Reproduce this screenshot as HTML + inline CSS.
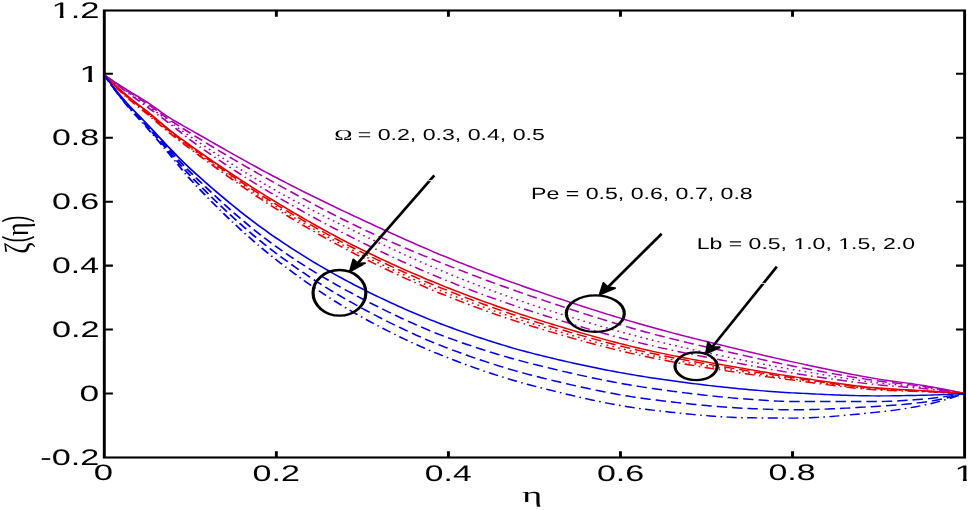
<!DOCTYPE html><html><head><meta charset="utf-8"><style>html,body{margin:0;padding:0;background:#fff;overflow:hidden}svg{display:block}</style></head><body>
<svg width="968" height="510" viewBox="0 0 968 510">
<rect width="968" height="510" fill="#fff"/>
<g transform="scale(1.39 1)" fill="none" stroke="#000" stroke-width="2.1" stroke-linecap="square">
<rect x="75.04" y="10.5" width="618.92" height="447.0"/>
<path d="M198.82,457.5V451.3M198.82,10.5V16.7M322.60,457.5V451.3M322.60,10.5V16.7M446.39,457.5V451.3M446.39,10.5V16.7M570.17,457.5V451.3M570.17,10.5V16.7M75.04,393.50H81.22M693.96,393.50H687.77M75.04,329.56H81.22M693.96,329.56H687.77M75.04,265.62H81.22M693.96,265.62H687.77M75.04,201.68H81.22M693.96,201.68H687.77M75.04,137.74H81.22M693.96,137.74H687.77M75.04,73.80H81.22M693.96,73.80H687.77" stroke-linecap="butt"/>
</g>
<clipPath id="plotclip"><rect x="105.6" y="0" width="857.8" height="510"/></clipPath>
<g clip-path="url(#plotclip)"><g transform="scale(1.39 1)" fill="none" stroke-width="1.45">
<path d="M75.04,75.00 L77.61,77.43 L80.19,79.83 L82.77,82.21 L85.35,84.55 L87.93,86.86 L90.51,89.15 L93.09,91.37 L95.67,93.52 L98.25,95.65 L100.82,97.79 L103.40,99.98 L105.98,102.25 L108.56,104.67 L111.14,107.21 L113.72,109.81 L116.30,112.40 L118.88,114.91 L121.46,117.28 L124.03,119.50 L126.61,121.62 L129.19,123.68 L131.77,125.71 L134.35,127.72 L136.93,129.75 L139.51,131.79 L142.09,133.84 L144.66,135.89 L147.24,137.94 L149.82,139.99 L152.40,142.04 L154.98,144.08 L157.56,146.13 L160.14,148.17 L162.72,150.20 L165.30,152.23 L167.87,154.25 L170.45,156.26 L173.03,158.27 L175.61,160.27 L178.19,162.25 L180.77,164.23 L183.35,166.20 L185.93,168.15 L188.50,170.09 L191.08,172.02 L193.66,173.93 L196.24,175.82 L198.82,177.70 L201.40,179.57 L203.98,181.42 L206.56,183.27 L209.14,185.10 L211.71,186.92 L214.29,188.73 L216.87,190.54 L219.45,192.33 L222.03,194.11 L224.61,195.89 L227.19,197.66 L229.77,199.41 L232.35,201.16 L234.92,202.90 L237.50,204.63 L240.08,206.36 L242.66,208.08 L245.24,209.79 L247.82,211.49 L250.40,213.18 L252.98,214.87 L255.55,216.56 L258.13,218.23 L260.71,219.90 L263.29,221.57 L265.87,223.23 L268.45,224.89 L271.03,226.54 L273.61,228.19 L276.19,229.84 L278.76,231.48 L281.34,233.11 L283.92,234.73 L286.50,236.35 L289.08,237.96 L291.66,239.56 L294.24,241.15 L296.82,242.74 L299.39,244.31 L301.97,245.87 L304.55,247.43 L307.13,248.97 L309.71,250.50 L312.29,252.01 L314.87,253.52 L317.45,255.01 L320.03,256.48 L322.60,257.95 L325.18,259.40 L327.76,260.84 L330.34,262.27 L332.92,263.70 L335.50,265.11 L338.08,266.51 L340.66,267.91 L343.24,269.30 L345.81,270.67 L348.39,272.04 L350.97,273.40 L353.55,274.75 L356.13,276.09 L358.71,277.42 L361.29,278.75 L363.87,280.06 L366.44,281.36 L369.02,282.66 L371.60,283.95 L374.18,285.22 L376.76,286.49 L379.34,287.75 L381.92,289.00 L384.50,290.24 L387.08,291.47 L389.65,292.70 L392.23,293.92 L394.81,295.14 L397.39,296.35 L399.97,297.56 L402.55,298.76 L405.13,299.96 L407.71,301.15 L410.28,302.33 L412.86,303.51 L415.44,304.68 L418.02,305.84 L420.60,307.00 L423.18,308.15 L425.76,309.29 L428.34,310.43 L430.92,311.56 L433.49,312.68 L436.07,313.80 L438.65,314.90 L441.23,316.00 L443.81,317.09 L446.39,318.18 L448.97,319.25 L451.55,320.32 L454.12,321.37 L456.70,322.42 L459.28,323.46 L461.86,324.49 L464.44,325.51 L467.02,326.52 L469.60,327.52 L472.18,328.51 L474.76,329.50 L477.33,330.47 L479.91,331.43 L482.49,332.38 L485.07,333.33 L487.65,334.27 L490.23,335.20 L492.81,336.12 L495.39,337.04 L497.97,337.95 L500.54,338.85 L503.12,339.75 L505.70,340.64 L508.28,341.53 L510.86,342.41 L513.44,343.29 L516.02,344.16 L518.60,345.04 L521.17,345.91 L523.75,346.77 L526.33,347.64 L528.91,348.50 L531.49,349.36 L534.07,350.22 L536.65,351.08 L539.23,351.94 L541.81,352.80 L544.38,353.65 L546.96,354.50 L549.54,355.35 L552.12,356.19 L554.70,357.02 L557.28,357.85 L559.86,358.67 L562.44,359.48 L565.01,360.28 L567.59,361.07 L570.17,361.85 L572.75,362.63 L575.33,363.40 L577.91,364.18 L580.49,364.96 L583.07,365.73 L585.65,366.51 L588.22,367.28 L590.80,368.04 L593.38,368.81 L595.96,369.56 L598.54,370.31 L601.12,371.06 L603.70,371.79 L606.28,372.52 L608.86,373.24 L611.43,373.94 L614.01,374.64 L616.59,375.32 L619.17,375.99 L621.75,376.65 L624.33,377.29 L626.91,377.91 L629.49,378.52 L632.06,379.11 L634.64,379.68 L637.22,380.21 L639.80,380.72 L642.38,381.20 L644.96,381.68 L647.54,382.15 L650.12,382.62 L652.70,383.09 L655.27,383.58 L657.85,384.09 L660.43,384.62 L663.01,385.19 L665.59,385.78 L668.17,386.40 L670.75,387.03 L673.33,387.68 L675.90,388.35 L678.48,389.04 L681.06,389.75 L683.64,390.47 L686.22,391.20 L688.80,391.96 L691.38,392.72 L693.96,393.50" stroke="#aa00b2"/>
<path d="M75.04,75.00 L77.61,77.55 L80.19,80.07 L82.77,82.56 L85.35,85.03 L87.93,87.48 L90.51,89.89 L93.09,92.26 L95.67,94.56 L98.25,96.85 L100.82,99.13 L103.40,101.46 L105.98,103.85 L108.56,106.34 L111.14,108.91 L113.72,111.52 L116.30,114.14 L118.88,116.71 L121.46,119.20 L124.03,121.61 L126.61,123.99 L129.19,126.33 L131.77,128.64 L134.35,130.91 L136.93,133.16 L139.51,135.39 L142.09,137.61 L144.66,139.81 L147.24,142.01 L149.82,144.20 L152.40,146.37 L154.98,148.54 L157.56,150.69 L160.14,152.84 L162.72,154.97 L165.30,157.10 L167.87,159.21 L170.45,161.31 L173.03,163.41 L175.61,165.49 L178.19,167.56 L180.77,169.62 L183.35,171.68 L185.93,173.72 L188.50,175.75 L191.08,177.77 L193.66,179.78 L196.24,181.78 L198.82,183.78 L201.40,185.76 L203.98,187.75 L206.56,189.72 L209.14,191.70 L211.71,193.67 L214.29,195.63 L216.87,197.58 L219.45,199.53 L222.03,201.47 L224.61,203.39 L227.19,205.31 L229.77,207.21 L232.35,209.11 L234.92,210.99 L237.50,212.85 L240.08,214.70 L242.66,216.53 L245.24,218.35 L247.82,220.15 L250.40,221.93 L252.98,223.69 L255.55,225.44 L258.13,227.16 L260.71,228.85 L263.29,230.53 L265.87,232.20 L268.45,233.85 L271.03,235.48 L273.61,237.10 L276.19,238.70 L278.76,240.29 L281.34,241.87 L283.92,243.43 L286.50,244.98 L289.08,246.52 L291.66,248.05 L294.24,249.56 L296.82,251.07 L299.39,252.56 L301.97,254.05 L304.55,255.52 L307.13,256.99 L309.71,258.45 L312.29,259.90 L314.87,261.34 L317.45,262.77 L320.03,264.20 L322.60,265.62 L325.18,267.03 L327.76,268.44 L330.34,269.84 L332.92,271.23 L335.50,272.61 L338.08,273.99 L340.66,275.35 L343.24,276.71 L345.81,278.06 L348.39,279.40 L350.97,280.74 L353.55,282.06 L356.13,283.38 L358.71,284.68 L361.29,285.98 L363.87,287.27 L366.44,288.56 L369.02,289.83 L371.60,291.09 L374.18,292.35 L376.76,293.59 L379.34,294.83 L381.92,296.05 L384.50,297.27 L387.08,298.48 L389.65,299.69 L392.23,300.89 L394.81,302.09 L397.39,303.29 L399.97,304.48 L402.55,305.67 L405.13,306.85 L407.71,308.03 L410.28,309.20 L412.86,310.37 L415.44,311.53 L418.02,312.68 L420.60,313.82 L423.18,314.96 L425.76,316.09 L428.34,317.22 L430.92,318.33 L433.49,319.44 L436.07,320.54 L438.65,321.63 L441.23,322.71 L443.81,323.78 L446.39,324.84 L448.97,325.89 L451.55,326.93 L454.12,327.96 L456.70,328.97 L459.28,329.98 L461.86,330.97 L464.44,331.95 L467.02,332.92 L469.60,333.88 L472.18,334.82 L474.76,335.76 L477.33,336.68 L479.91,337.59 L482.49,338.49 L485.07,339.38 L487.65,340.26 L490.23,341.13 L492.81,342.00 L495.39,342.85 L497.97,343.70 L500.54,344.55 L503.12,345.38 L505.70,346.21 L508.28,347.04 L510.86,347.86 L513.44,348.68 L516.02,349.49 L518.60,350.30 L521.17,351.11 L523.75,351.92 L526.33,352.72 L528.91,353.52 L531.49,354.33 L534.07,355.13 L536.65,355.93 L539.23,356.73 L541.81,357.54 L544.38,358.34 L546.96,359.15 L549.54,359.95 L552.12,360.74 L554.70,361.53 L557.28,362.31 L559.86,363.07 L562.44,363.83 L565.01,364.57 L567.59,365.30 L570.17,366.01 L572.75,366.70 L575.33,367.40 L577.91,368.09 L580.49,368.78 L583.07,369.47 L585.65,370.15 L588.22,370.82 L590.80,371.49 L593.38,372.16 L595.96,372.82 L598.54,373.47 L601.12,374.11 L603.70,374.74 L606.28,375.37 L608.86,375.98 L611.43,376.59 L614.01,377.19 L616.59,377.77 L619.17,378.35 L621.75,378.91 L624.33,379.46 L626.91,380.00 L629.49,380.52 L632.06,381.03 L634.64,381.52 L637.22,381.98 L639.80,382.41 L642.38,382.83 L644.96,383.24 L647.54,383.64 L650.12,384.04 L652.70,384.45 L655.27,384.87 L657.85,385.30 L660.43,385.76 L663.01,386.25 L665.59,386.77 L668.17,387.30 L670.75,387.85 L673.33,388.42 L675.90,389.00 L678.48,389.60 L681.06,390.22 L683.64,390.85 L686.22,391.49 L688.80,392.15 L691.38,392.82 L693.96,393.50" stroke="#aa00b2" stroke-dasharray="7.5 3.6"/>
<path d="M75.04,75.00 L77.61,77.66 L80.19,80.30 L82.77,82.92 L85.35,85.52 L87.93,88.09 L90.51,90.64 L93.09,93.14 L95.67,95.60 L98.25,98.04 L100.82,100.48 L103.40,102.94 L105.98,105.45 L108.56,108.01 L111.14,110.62 L113.72,113.24 L116.30,115.88 L118.88,118.51 L121.46,121.12 L124.03,123.72 L126.61,126.34 L129.19,128.96 L131.77,131.55 L134.35,134.09 L136.93,136.57 L139.51,139.00 L142.09,141.42 L144.66,143.84 L147.24,146.24 L149.82,148.62 L152.40,150.99 L154.98,153.35 L157.56,155.70 L160.14,158.03 L162.72,160.34 L165.30,162.64 L167.87,164.92 L170.45,167.19 L173.03,169.44 L175.61,171.67 L178.19,173.87 L180.77,176.07 L183.35,178.24 L185.93,180.39 L188.50,182.52 L191.08,184.62 L193.66,186.71 L196.24,188.77 L198.82,190.81 L201.40,192.83 L203.98,194.82 L206.56,196.80 L209.14,198.76 L211.71,200.69 L214.29,202.61 L216.87,204.52 L219.45,206.40 L222.03,208.27 L224.61,210.13 L227.19,211.97 L229.77,213.80 L232.35,215.61 L234.92,217.42 L237.50,219.21 L240.08,220.99 L242.66,222.76 L245.24,224.52 L247.82,226.27 L250.40,228.02 L252.98,229.75 L255.55,231.48 L258.13,233.21 L260.71,234.93 L263.29,236.64 L265.87,238.35 L268.45,240.06 L271.03,241.76 L273.61,243.45 L276.19,245.13 L278.76,246.80 L281.34,248.47 L283.92,250.13 L286.50,251.78 L289.08,253.42 L291.66,255.05 L294.24,256.67 L296.82,258.27 L299.39,259.87 L301.97,261.45 L304.55,263.02 L307.13,264.58 L309.71,266.12 L312.29,267.65 L314.87,269.16 L317.45,270.66 L320.03,272.15 L322.60,273.61 L325.18,275.07 L327.76,276.51 L330.34,277.95 L332.92,279.38 L335.50,280.79 L338.08,282.20 L340.66,283.60 L343.24,284.98 L345.81,286.36 L348.39,287.73 L350.97,289.08 L353.55,290.42 L356.13,291.76 L358.71,293.08 L361.29,294.38 L363.87,295.68 L366.44,296.96 L369.02,298.23 L371.60,299.49 L374.18,300.74 L376.76,301.97 L379.34,303.19 L381.92,304.39 L384.50,305.58 L387.08,306.76 L389.65,307.94 L392.23,309.10 L394.81,310.26 L397.39,311.41 L399.97,312.56 L402.55,313.70 L405.13,314.83 L407.71,315.95 L410.28,317.06 L412.86,318.17 L415.44,319.27 L418.02,320.36 L420.60,321.44 L423.18,322.51 L425.76,323.57 L428.34,324.63 L430.92,325.68 L433.49,326.72 L436.07,327.74 L438.65,328.76 L441.23,329.77 L443.81,330.77 L446.39,331.76 L448.97,332.75 L451.55,333.72 L454.12,334.68 L456.70,335.63 L459.28,336.57 L461.86,337.50 L464.44,338.42 L467.02,339.33 L469.60,340.22 L472.18,341.11 L474.76,341.99 L477.33,342.86 L479.91,343.72 L482.49,344.57 L485.07,345.41 L487.65,346.25 L490.23,347.07 L492.81,347.89 L495.39,348.70 L497.97,349.50 L500.54,350.30 L503.12,351.08 L505.70,351.87 L508.28,352.64 L510.86,353.41 L513.44,354.17 L516.02,354.93 L518.60,355.68 L521.17,356.43 L523.75,357.17 L526.33,357.91 L528.91,358.64 L531.49,359.37 L534.07,360.09 L536.65,360.81 L539.23,361.53 L541.81,362.24 L544.38,362.95 L546.96,363.64 L549.54,364.33 L552.12,365.01 L554.70,365.68 L557.28,366.34 L559.86,366.99 L562.44,367.64 L565.01,368.28 L567.59,368.90 L570.17,369.52 L572.75,370.14 L575.33,370.75 L577.91,371.37 L580.49,371.98 L583.07,372.60 L585.65,373.21 L588.22,373.82 L590.80,374.42 L593.38,375.02 L595.96,375.62 L598.54,376.20 L601.12,376.79 L603.70,377.36 L606.28,377.93 L608.86,378.48 L611.43,379.03 L614.01,379.56 L616.59,380.09 L619.17,380.60 L621.75,381.10 L624.33,381.58 L626.91,382.06 L629.49,382.51 L632.06,382.95 L634.64,383.37 L637.22,383.75 L639.80,384.12 L642.38,384.47 L644.96,384.81 L647.54,385.14 L650.12,385.47 L652.70,385.81 L655.27,386.16 L657.85,386.52 L660.43,386.91 L663.01,387.32 L665.59,387.75 L668.17,388.21 L670.75,388.67 L673.33,389.16 L675.90,389.65 L678.48,390.16 L681.06,390.69 L683.64,391.23 L686.22,391.78 L688.80,392.34 L691.38,392.91 L693.96,393.50" stroke="#aa00b2" stroke-dasharray="1.3 3.1"/>
<path d="M75.04,75.00 L77.61,77.78 L80.19,80.54 L82.77,83.28 L85.35,86.00 L87.93,88.70 L90.51,91.38 L93.09,94.03 L95.67,96.65 L98.25,99.24 L100.82,101.83 L103.40,104.43 L105.98,107.05 L108.56,109.68 L111.14,112.32 L113.72,114.96 L116.30,117.62 L118.88,120.31 L121.46,123.03 L124.03,125.83 L126.61,128.70 L129.19,131.60 L131.77,134.48 L134.35,137.29 L136.93,139.98 L139.51,142.58 L142.09,145.15 L144.66,147.70 L147.24,150.22 L149.82,152.72 L152.40,155.20 L154.98,157.65 L157.56,160.08 L160.14,162.49 L162.72,164.88 L165.30,167.24 L167.87,169.59 L170.45,171.91 L173.03,174.22 L175.61,176.50 L178.19,178.77 L180.77,181.01 L183.35,183.24 L185.93,185.45 L188.50,187.64 L191.08,189.82 L193.66,191.98 L196.24,194.12 L198.82,196.25 L201.40,198.35 L203.98,200.45 L206.56,202.53 L209.14,204.59 L211.71,206.63 L214.29,208.66 L216.87,210.67 L219.45,212.67 L222.03,214.65 L224.61,216.62 L227.19,218.57 L229.77,220.51 L232.35,222.43 L234.92,224.33 L237.50,226.22 L240.08,228.10 L242.66,229.96 L245.24,231.81 L247.82,233.64 L250.40,235.46 L252.98,237.27 L255.55,239.06 L258.13,240.84 L260.71,242.60 L263.29,244.35 L265.87,246.10 L268.45,247.83 L271.03,249.55 L273.61,251.26 L276.19,252.96 L278.76,254.65 L281.34,256.33 L283.92,257.99 L286.50,259.65 L289.08,261.29 L291.66,262.91 L294.24,264.53 L296.82,266.12 L299.39,267.71 L301.97,269.28 L304.55,270.84 L307.13,272.38 L309.71,273.90 L312.29,275.41 L314.87,276.91 L317.45,278.38 L320.03,279.84 L322.60,281.29 L325.18,282.71 L327.76,284.13 L330.34,285.54 L332.92,286.93 L335.50,288.31 L338.08,289.68 L340.66,291.04 L343.24,292.38 L345.81,293.72 L348.39,295.04 L350.97,296.35 L353.55,297.65 L356.13,298.93 L358.71,300.21 L361.29,301.47 L363.87,302.72 L366.44,303.96 L369.02,305.19 L371.60,306.40 L374.18,307.60 L376.76,308.80 L379.34,309.97 L381.92,311.14 L384.50,312.30 L387.08,313.44 L389.65,314.58 L392.23,315.72 L394.81,316.85 L397.39,317.98 L399.97,319.10 L402.55,320.21 L405.13,321.32 L407.71,322.42 L410.28,323.51 L412.86,324.60 L415.44,325.68 L418.02,326.75 L420.60,327.81 L423.18,328.86 L425.76,329.90 L428.34,330.94 L430.92,331.96 L433.49,332.97 L436.07,333.98 L438.65,334.97 L441.23,335.95 L443.81,336.92 L446.39,337.88 L448.97,338.83 L451.55,339.76 L454.12,340.68 L456.70,341.59 L459.28,342.49 L461.86,343.37 L464.44,344.24 L467.02,345.09 L469.60,345.93 L472.18,346.76 L474.76,347.57 L477.33,348.37 L479.91,349.16 L482.49,349.94 L485.07,350.71 L487.65,351.47 L490.23,352.21 L492.81,352.95 L495.39,353.69 L497.97,354.41 L500.54,355.13 L503.12,355.83 L505.70,356.54 L508.28,357.24 L510.86,357.93 L513.44,358.62 L516.02,359.30 L518.60,359.98 L521.17,360.66 L523.75,361.33 L526.33,362.01 L528.91,362.68 L531.49,363.35 L534.07,364.02 L536.65,364.69 L539.23,365.37 L541.81,366.04 L544.38,366.71 L546.96,367.38 L549.54,368.05 L552.12,368.71 L554.70,369.37 L557.28,370.01 L559.86,370.64 L562.44,371.27 L565.01,371.87 L567.59,372.47 L570.17,373.04 L572.75,373.60 L575.33,374.17 L577.91,374.73 L580.49,375.29 L583.07,375.84 L585.65,376.39 L588.22,376.94 L590.80,377.48 L593.38,378.01 L595.96,378.54 L598.54,379.06 L601.12,379.58 L603.70,380.08 L606.28,380.57 L608.86,381.06 L611.43,381.53 L614.01,382.00 L616.59,382.45 L619.17,382.89 L621.75,383.31 L624.33,383.72 L626.91,384.12 L629.49,384.50 L632.06,384.87 L634.64,385.21 L637.22,385.53 L639.80,385.83 L642.38,386.11 L644.96,386.38 L647.54,386.64 L650.12,386.91 L652.70,387.17 L655.27,387.45 L657.85,387.74 L660.43,388.05 L663.01,388.38 L665.59,388.74 L668.17,389.11 L670.75,389.49 L673.33,389.89 L675.90,390.30 L678.48,390.72 L681.06,391.16 L683.64,391.61 L686.22,392.06 L688.80,392.53 L691.38,393.01 L693.96,393.50" stroke="#aa00b2" stroke-dasharray="7.2 3.2 1.2 3.2"/>
<path d="M75.04,75.00 L77.61,78.45 L80.19,81.83 L82.77,85.13 L85.35,88.36 L87.93,91.51 L90.51,94.58 L93.09,97.54 L95.67,100.38 L98.25,103.15 L100.82,105.90 L103.40,108.67 L105.98,111.52 L108.56,114.47 L111.14,117.49 L113.72,120.54 L116.30,123.57 L118.88,126.55 L121.46,129.43 L124.03,132.21 L126.61,134.95 L129.19,137.63 L131.77,140.26 L134.35,142.86 L136.93,145.41 L139.51,147.95 L142.09,150.47 L144.66,152.98 L147.24,155.48 L149.82,157.97 L152.40,160.44 L154.98,162.90 L157.56,165.35 L160.14,167.79 L162.72,170.21 L165.30,172.61 L167.87,175.00 L170.45,177.37 L173.03,179.73 L175.61,182.07 L178.19,184.40 L180.77,186.70 L183.35,188.99 L185.93,191.26 L188.50,193.51 L191.08,195.74 L193.66,197.96 L196.24,200.15 L198.82,202.32 L201.40,204.47 L203.98,206.62 L206.56,208.75 L209.14,210.87 L211.71,212.98 L214.29,215.07 L216.87,217.15 L219.45,219.22 L222.03,221.27 L224.61,223.31 L227.19,225.33 L229.77,227.33 L232.35,229.32 L234.92,231.29 L237.50,233.24 L240.08,235.18 L242.66,237.10 L245.24,238.99 L247.82,240.87 L250.40,242.73 L252.98,244.57 L255.55,246.39 L258.13,248.18 L260.71,249.95 L263.29,251.71 L265.87,253.45 L268.45,255.17 L271.03,256.88 L273.61,258.58 L276.19,260.26 L278.76,261.92 L281.34,263.57 L283.92,265.20 L286.50,266.82 L289.08,268.43 L291.66,270.02 L294.24,271.59 L296.82,273.16 L299.39,274.70 L301.97,276.24 L304.55,277.75 L307.13,279.26 L309.71,280.75 L312.29,282.23 L314.87,283.69 L317.45,285.14 L320.03,286.58 L322.60,288.00 L325.18,289.41 L327.76,290.81 L330.34,292.20 L332.92,293.58 L335.50,294.95 L338.08,296.31 L340.66,297.65 L343.24,298.99 L345.81,300.31 L348.39,301.63 L350.97,302.93 L353.55,304.22 L356.13,305.49 L358.71,306.76 L361.29,308.01 L363.87,309.25 L366.44,310.48 L369.02,311.69 L371.60,312.89 L374.18,314.08 L376.76,315.25 L379.34,316.41 L381.92,317.56 L384.50,318.69 L387.08,319.81 L389.65,320.93 L392.23,322.05 L394.81,323.15 L397.39,324.26 L399.97,325.35 L402.55,326.44 L405.13,327.52 L407.71,328.60 L410.28,329.67 L412.86,330.73 L415.44,331.78 L418.02,332.82 L420.60,333.85 L423.18,334.88 L425.76,335.89 L428.34,336.90 L430.92,337.89 L433.49,338.88 L436.07,339.85 L438.65,340.81 L441.23,341.76 L443.81,342.70 L446.39,343.62 L448.97,344.54 L451.55,345.43 L454.12,346.32 L456.70,347.19 L459.28,348.05 L461.86,348.89 L464.44,349.72 L467.02,350.53 L469.60,351.33 L472.18,352.11 L474.76,352.88 L477.33,353.64 L479.91,354.39 L482.49,355.12 L485.07,355.85 L487.65,356.56 L490.23,357.27 L492.81,357.96 L495.39,358.65 L497.97,359.33 L500.54,360.00 L503.12,360.66 L505.70,361.32 L508.28,361.97 L510.86,362.62 L513.44,363.26 L516.02,363.90 L518.60,364.53 L521.17,365.16 L523.75,365.79 L526.33,366.41 L528.91,367.04 L531.49,367.66 L534.07,368.28 L536.65,368.90 L539.23,369.52 L541.81,370.14 L544.38,370.76 L546.96,371.37 L549.54,371.98 L552.12,372.58 L554.70,373.17 L557.28,373.76 L559.86,374.34 L562.44,374.91 L565.01,375.47 L567.59,376.02 L570.17,376.56 L572.75,377.09 L575.33,377.64 L577.91,378.18 L580.49,378.73 L583.07,379.28 L585.65,379.84 L588.22,380.39 L590.80,380.93 L593.38,381.48 L595.96,382.01 L598.54,382.54 L601.12,383.06 L603.70,383.57 L606.28,384.07 L608.86,384.55 L611.43,385.02 L614.01,385.48 L616.59,385.91 L619.17,386.33 L621.75,386.72 L624.33,387.10 L626.91,387.44 L629.49,387.77 L632.06,388.07 L634.64,388.34 L637.22,388.58 L639.80,388.82 L642.38,389.03 L644.96,389.23 L647.54,389.43 L650.12,389.62 L652.70,389.81 L655.27,390.00 L657.85,390.20 L660.43,390.40 L663.01,390.62 L665.59,390.85 L668.17,391.08 L670.75,391.31 L673.33,391.54 L675.90,391.78 L678.48,392.02 L681.06,392.26 L683.64,392.50 L686.22,392.75 L688.80,393.00 L691.38,393.25 L693.96,393.50" stroke="#e80000"/>
<path d="M75.04,75.00 L77.61,78.59 L80.19,82.09 L82.77,85.51 L85.35,88.84 L87.93,92.08 L90.51,95.22 L93.09,98.23 L95.67,101.12 L98.25,103.92 L100.82,106.70 L103.40,109.50 L105.98,112.38 L108.56,115.35 L111.14,118.39 L113.72,121.45 L116.30,124.49 L118.88,127.49 L121.46,130.39 L124.03,133.20 L126.61,135.97 L129.19,138.68 L131.77,141.36 L134.35,143.99 L136.93,146.59 L139.51,149.16 L142.09,151.72 L144.66,154.28 L147.24,156.83 L149.82,159.36 L152.40,161.88 L154.98,164.40 L157.56,166.89 L160.14,169.38 L162.72,171.85 L165.30,174.31 L167.87,176.74 L170.45,179.17 L173.03,181.58 L175.61,183.96 L178.19,186.33 L180.77,188.69 L183.35,191.02 L185.93,193.33 L188.50,195.62 L191.08,197.89 L193.66,200.14 L196.24,202.36 L198.82,204.56 L201.40,206.74 L203.98,208.91 L206.56,211.06 L209.14,213.20 L211.71,215.32 L214.29,217.43 L216.87,219.53 L219.45,221.61 L222.03,223.67 L224.61,225.72 L227.19,227.75 L229.77,229.77 L232.35,231.77 L234.92,233.75 L237.50,235.71 L240.08,237.65 L242.66,239.58 L245.24,241.49 L247.82,243.37 L250.40,245.24 L252.98,247.09 L255.55,248.92 L258.13,250.73 L260.71,252.51 L263.29,254.28 L265.87,256.04 L268.45,257.77 L271.03,259.50 L273.61,261.21 L276.19,262.91 L278.76,264.59 L281.34,266.25 L283.92,267.90 L286.50,269.54 L289.08,271.16 L291.66,272.77 L294.24,274.36 L296.82,275.94 L299.39,277.50 L301.97,279.05 L304.55,280.58 L307.13,282.09 L309.71,283.60 L312.29,285.08 L314.87,286.55 L317.45,288.01 L320.03,289.45 L322.60,290.88 L325.18,292.29 L327.76,293.69 L330.34,295.08 L332.92,296.46 L335.50,297.83 L338.08,299.19 L340.66,300.53 L343.24,301.87 L345.81,303.19 L348.39,304.50 L350.97,305.80 L353.55,307.08 L356.13,308.35 L358.71,309.61 L361.29,310.86 L363.87,312.09 L366.44,313.31 L369.02,314.52 L371.60,315.71 L374.18,316.89 L376.76,318.05 L379.34,319.20 L381.92,320.34 L384.50,321.46 L387.08,322.57 L389.65,323.68 L392.23,324.78 L394.81,325.87 L397.39,326.96 L399.97,328.05 L402.55,329.12 L405.13,330.19 L407.71,331.25 L410.28,332.30 L412.86,333.35 L415.44,334.39 L418.02,335.41 L420.60,336.43 L423.18,337.44 L425.76,338.44 L428.34,339.43 L430.92,340.41 L433.49,341.37 L436.07,342.33 L438.65,343.27 L441.23,344.20 L443.81,345.12 L446.39,346.03 L448.97,346.92 L451.55,347.80 L454.12,348.67 L456.70,349.52 L459.28,350.35 L461.86,351.18 L464.44,351.98 L467.02,352.77 L469.60,353.55 L472.18,354.31 L474.76,355.06 L477.33,355.80 L479.91,356.53 L482.49,357.24 L485.07,357.95 L487.65,358.64 L490.23,359.32 L492.81,360.00 L495.39,360.67 L497.97,361.32 L500.54,361.97 L503.12,362.62 L505.70,363.25 L508.28,363.88 L510.86,364.51 L513.44,365.12 L516.02,365.74 L518.60,366.35 L521.17,366.95 L523.75,367.55 L526.33,368.15 L528.91,368.75 L531.49,369.34 L534.07,369.94 L536.65,370.53 L539.23,371.12 L541.81,371.71 L544.38,372.29 L546.96,372.87 L549.54,373.44 L552.12,374.00 L554.70,374.55 L557.28,375.10 L559.86,375.64 L562.44,376.18 L565.01,376.70 L567.59,377.22 L570.17,377.73 L572.75,378.24 L575.33,378.75 L577.91,379.28 L580.49,379.80 L583.07,380.33 L585.65,380.86 L588.22,381.39 L590.80,381.92 L593.38,382.44 L595.96,382.96 L598.54,383.47 L601.12,383.97 L603.70,384.46 L606.28,384.94 L608.86,385.41 L611.43,385.86 L614.01,386.29 L616.59,386.70 L619.17,387.10 L621.75,387.47 L624.33,387.82 L626.91,388.14 L629.49,388.44 L632.06,388.70 L634.64,388.95 L637.22,389.17 L639.80,389.37 L642.38,389.56 L644.96,389.74 L647.54,389.90 L650.12,390.07 L652.70,390.23 L655.27,390.40 L657.85,390.57 L660.43,390.75 L663.01,390.94 L665.59,391.14 L668.17,391.35 L670.75,391.55 L673.33,391.76 L675.90,391.97 L678.48,392.18 L681.06,392.39 L683.64,392.61 L686.22,392.83 L688.80,393.05 L691.38,393.27 L693.96,393.50" stroke="#e80000" stroke-dasharray="7.5 3.6"/>
<path d="M75.04,75.00 L77.61,78.72 L80.19,82.35 L82.77,85.89 L85.35,89.32 L87.93,92.64 L90.51,95.86 L93.09,98.93 L95.67,101.86 L98.25,104.70 L100.82,107.50 L103.40,110.33 L105.98,113.23 L108.56,116.23 L111.14,119.28 L113.72,122.35 L116.30,125.41 L118.88,128.42 L121.46,131.35 L124.03,134.19 L126.61,136.99 L129.19,139.74 L131.77,142.45 L134.35,145.12 L136.93,147.76 L139.51,150.37 L142.09,152.98 L144.66,155.58 L147.24,158.17 L149.82,160.76 L152.40,163.33 L154.98,165.89 L157.56,168.44 L160.14,170.97 L162.72,173.49 L165.30,176.00 L167.87,178.49 L170.45,180.96 L173.03,183.42 L175.61,185.86 L178.19,188.27 L180.77,190.67 L183.35,193.05 L185.93,195.40 L188.50,197.73 L191.08,200.03 L193.66,202.31 L196.24,204.57 L198.82,206.80 L201.40,209.00 L203.98,211.19 L206.56,213.37 L209.14,215.52 L211.71,217.67 L214.29,219.79 L216.87,221.90 L219.45,224.00 L222.03,226.08 L224.61,228.14 L227.19,230.18 L229.77,232.20 L232.35,234.21 L234.92,236.20 L237.50,238.17 L240.08,240.13 L242.66,242.06 L245.24,243.98 L247.82,245.87 L250.40,247.75 L252.98,249.61 L255.55,251.45 L258.13,253.27 L260.71,255.07 L263.29,256.85 L265.87,258.62 L268.45,260.38 L271.03,262.12 L273.61,263.84 L276.19,265.56 L278.76,267.25 L281.34,268.94 L283.92,270.60 L286.50,272.26 L289.08,273.90 L291.66,275.52 L294.24,277.13 L296.82,278.72 L299.39,280.29 L301.97,281.86 L304.55,283.40 L307.13,284.93 L309.71,286.44 L312.29,287.94 L314.87,289.42 L317.45,290.88 L320.03,292.32 L322.60,293.75 L325.18,295.17 L327.76,296.57 L330.34,297.96 L332.92,299.35 L335.50,300.71 L338.08,302.07 L340.66,303.42 L343.24,304.75 L345.81,306.07 L348.39,307.38 L350.97,308.67 L353.55,309.95 L356.13,311.22 L358.71,312.47 L361.29,313.71 L363.87,314.94 L366.44,316.15 L369.02,317.35 L371.60,318.53 L374.18,319.70 L376.76,320.86 L379.34,322.00 L381.92,323.12 L384.50,324.23 L387.08,325.33 L389.65,326.42 L392.23,327.51 L394.81,328.59 L397.39,329.67 L399.97,330.74 L402.55,331.80 L405.13,332.86 L407.71,333.90 L410.28,334.94 L412.86,335.97 L415.44,336.99 L418.02,338.01 L420.60,339.01 L423.18,340.00 L425.76,340.98 L428.34,341.96 L430.92,342.92 L433.49,343.87 L436.07,344.80 L438.65,345.73 L441.23,346.64 L443.81,347.54 L446.39,348.43 L448.97,349.31 L451.55,350.17 L454.12,351.01 L456.70,351.84 L459.28,352.66 L461.86,353.46 L464.44,354.25 L467.02,355.01 L469.60,355.77 L472.18,356.51 L474.76,357.24 L477.33,357.96 L479.91,358.66 L482.49,359.36 L485.07,360.04 L487.65,360.71 L490.23,361.38 L492.81,362.03 L495.39,362.68 L497.97,363.32 L500.54,363.95 L503.12,364.57 L505.70,365.18 L508.28,365.79 L510.86,366.39 L513.44,366.99 L516.02,367.58 L518.60,368.17 L521.17,368.75 L523.75,369.32 L526.33,369.90 L528.91,370.47 L531.49,371.03 L534.07,371.60 L536.65,372.16 L539.23,372.72 L541.81,373.28 L544.38,373.82 L546.96,374.36 L549.54,374.89 L552.12,375.42 L554.70,375.94 L557.28,376.45 L559.86,376.95 L562.44,377.45 L565.01,377.94 L567.59,378.42 L570.17,378.90 L572.75,379.38 L575.33,379.87 L577.91,380.37 L580.49,380.87 L583.07,381.38 L585.65,381.89 L588.22,382.40 L590.80,382.91 L593.38,383.41 L595.96,383.91 L598.54,384.40 L601.12,384.88 L603.70,385.36 L606.28,385.82 L608.86,386.26 L611.43,386.69 L614.01,387.10 L616.59,387.50 L619.17,387.87 L621.75,388.22 L624.33,388.54 L626.91,388.84 L629.49,389.11 L632.06,389.34 L634.64,389.56 L637.22,389.75 L639.80,389.92 L642.38,390.08 L644.96,390.23 L647.54,390.38 L650.12,390.52 L652.70,390.66 L655.27,390.80 L657.85,390.94 L660.43,391.10 L663.01,391.26 L665.59,391.44 L668.17,391.61 L670.75,391.79 L673.33,391.97 L675.90,392.15 L678.48,392.34 L681.06,392.53 L683.64,392.72 L686.22,392.91 L688.80,393.10 L691.38,393.30 L693.96,393.50" stroke="#e80000" stroke-dasharray="1.3 3.1"/>
<path d="M75.04,75.00 L77.61,78.86 L80.19,82.62 L82.77,86.26 L85.35,89.80 L87.93,93.21 L90.51,96.50 L93.09,99.63 L95.67,102.60 L98.25,105.47 L100.82,108.30 L103.40,111.16 L105.98,114.08 L108.56,117.10 L111.14,120.17 L113.72,123.26 L116.30,126.33 L118.88,129.36 L121.46,132.31 L124.03,135.18 L126.61,138.01 L129.19,140.80 L131.77,143.55 L134.35,146.25 L136.93,148.93 L139.51,151.59 L142.09,154.24 L144.66,156.88 L147.24,159.52 L149.82,162.15 L152.40,164.77 L154.98,167.38 L157.56,169.98 L160.14,172.57 L162.72,175.14 L165.30,177.70 L167.87,180.24 L170.45,182.76 L173.03,185.26 L175.61,187.75 L178.19,190.21 L180.77,192.66 L183.35,195.07 L185.93,197.47 L188.50,199.84 L191.08,202.18 L193.66,204.49 L196.24,206.78 L198.82,209.03 L201.40,211.26 L203.98,213.48 L206.56,215.67 L209.14,217.85 L211.71,220.01 L214.29,222.15 L216.87,224.28 L219.45,226.39 L222.03,228.48 L224.61,230.55 L227.19,232.60 L229.77,234.64 L232.35,236.66 L234.92,238.66 L237.50,240.64 L240.08,242.60 L242.66,244.54 L245.24,246.47 L247.82,248.38 L250.40,250.26 L252.98,252.13 L255.55,253.98 L258.13,255.81 L260.71,257.63 L263.29,259.42 L265.87,261.21 L268.45,262.98 L271.03,264.73 L273.61,266.48 L276.19,268.21 L278.76,269.92 L281.34,271.62 L283.92,273.31 L286.50,274.98 L289.08,276.63 L291.66,278.27 L294.24,279.89 L296.82,281.50 L299.39,283.09 L301.97,284.67 L304.55,286.22 L307.13,287.76 L309.71,289.29 L312.29,290.79 L314.87,292.28 L317.45,293.75 L320.03,295.20 L322.60,296.63 L325.18,298.05 L327.76,299.45 L330.34,300.85 L332.92,302.23 L335.50,303.60 L338.08,304.95 L340.66,306.30 L343.24,307.63 L345.81,308.95 L348.39,310.25 L350.97,311.54 L353.55,312.82 L356.13,314.08 L358.71,315.33 L361.29,316.56 L363.87,317.79 L366.44,318.99 L369.02,320.18 L371.60,321.36 L374.18,322.52 L376.76,323.66 L379.34,324.79 L381.92,325.91 L384.50,327.00 L387.08,328.09 L389.65,329.17 L392.23,330.25 L394.81,331.31 L397.39,332.38 L399.97,333.43 L402.55,334.48 L405.13,335.52 L407.71,336.56 L410.28,337.58 L412.86,338.60 L415.44,339.60 L418.02,340.60 L420.60,341.59 L423.18,342.56 L425.76,343.53 L428.34,344.49 L430.92,345.43 L433.49,346.36 L436.07,347.28 L438.65,348.19 L441.23,349.09 L443.81,349.97 L446.39,350.84 L448.97,351.69 L451.55,352.53 L454.12,353.36 L456.70,354.17 L459.28,354.96 L461.86,355.74 L464.44,356.51 L467.02,357.26 L469.60,357.99 L472.18,358.71 L474.76,359.42 L477.33,360.11 L479.91,360.80 L482.49,361.47 L485.07,362.14 L487.65,362.79 L490.23,363.43 L492.81,364.07 L495.39,364.70 L497.97,365.31 L500.54,365.92 L503.12,366.52 L505.70,367.12 L508.28,367.70 L510.86,368.28 L513.44,368.86 L516.02,369.42 L518.60,369.99 L521.17,370.54 L523.75,371.09 L526.33,371.64 L528.91,372.18 L531.49,372.72 L534.07,373.26 L536.65,373.79 L539.23,374.32 L541.81,374.84 L544.38,375.35 L546.96,375.86 L549.54,376.35 L552.12,376.84 L554.70,377.32 L557.28,377.79 L559.86,378.25 L562.44,378.72 L565.01,379.17 L567.59,379.62 L570.17,380.07 L572.75,380.53 L575.33,380.99 L577.91,381.46 L580.49,381.94 L583.07,382.43 L585.65,382.92 L588.22,383.41 L590.80,383.89 L593.38,384.38 L595.96,384.86 L598.54,385.33 L601.12,385.80 L603.70,386.25 L606.28,386.69 L608.86,387.12 L611.43,387.53 L614.01,387.92 L616.59,388.29 L619.17,388.64 L621.75,388.97 L624.33,389.27 L626.91,389.54 L629.49,389.78 L632.06,389.98 L634.64,390.16 L637.22,390.33 L639.80,390.47 L642.38,390.61 L644.96,390.73 L647.54,390.85 L650.12,390.96 L652.70,391.08 L655.27,391.19 L657.85,391.31 L660.43,391.44 L663.01,391.58 L665.59,391.73 L668.17,391.88 L670.75,392.03 L673.33,392.18 L675.90,392.34 L678.48,392.50 L681.06,392.66 L683.64,392.82 L686.22,392.99 L688.80,393.16 L691.38,393.33 L693.96,393.50" stroke="#e80000" stroke-dasharray="7.2 3.2 1.2 3.2"/>
<path d="M75.04,75.00 L77.61,79.81 L80.19,84.50 L82.77,89.06 L85.35,93.49 L87.93,97.79 L90.51,101.93 L93.09,105.90 L95.67,109.68 L98.25,113.34 L100.82,116.96 L103.40,120.59 L105.98,124.31 L108.56,128.13 L111.14,132.00 L113.72,135.88 L116.30,139.76 L118.88,143.58 L121.46,147.33 L124.03,151.03 L126.61,154.72 L129.19,158.37 L131.77,161.94 L134.35,165.41 L136.93,168.75 L139.51,172.00 L142.09,175.23 L144.66,178.42 L147.24,181.60 L149.82,184.74 L152.40,187.85 L154.98,190.94 L157.56,193.99 L160.14,197.02 L162.72,200.01 L165.30,202.97 L167.87,205.89 L170.45,208.79 L173.03,211.64 L175.61,214.46 L178.19,217.25 L180.77,220.00 L183.35,222.71 L185.93,225.38 L188.50,228.01 L191.08,230.60 L193.66,233.15 L196.24,235.66 L198.82,238.13 L201.40,240.56 L203.98,242.96 L206.56,245.33 L209.14,247.68 L211.71,250.00 L214.29,252.29 L216.87,254.55 L219.45,256.79 L222.03,259.00 L224.61,261.18 L227.19,263.33 L229.77,265.46 L232.35,267.56 L234.92,269.64 L237.50,271.69 L240.08,273.71 L242.66,275.71 L245.24,277.68 L247.82,279.62 L250.40,281.54 L252.98,283.43 L255.55,285.30 L258.13,287.14 L260.71,288.96 L263.29,290.75 L265.87,292.53 L268.45,294.29 L271.03,296.03 L273.61,297.76 L276.19,299.46 L278.76,301.15 L281.34,302.81 L283.92,304.46 L286.50,306.09 L289.08,307.70 L291.66,309.28 L294.24,310.85 L296.82,312.40 L299.39,313.93 L301.97,315.43 L304.55,316.91 L307.13,318.38 L309.71,319.82 L312.29,321.23 L314.87,322.63 L317.45,324.00 L320.03,325.35 L322.60,326.68 L325.18,327.99 L327.76,329.29 L330.34,330.58 L332.92,331.85 L335.50,333.11 L338.08,334.36 L340.66,335.59 L343.24,336.81 L345.81,338.01 L348.39,339.19 L350.97,340.36 L353.55,341.52 L356.13,342.65 L358.71,343.77 L361.29,344.87 L363.87,345.95 L366.44,347.01 L369.02,348.05 L371.60,349.07 L374.18,350.07 L376.76,351.05 L379.34,352.01 L381.92,352.94 L384.50,353.86 L387.08,354.75 L389.65,355.64 L392.23,356.52 L394.81,357.39 L397.39,358.25 L399.97,359.10 L402.55,359.94 L405.13,360.78 L407.71,361.60 L410.28,362.41 L412.86,363.21 L415.44,364.00 L418.02,364.78 L420.60,365.55 L423.18,366.31 L425.76,367.06 L428.34,367.80 L430.92,368.52 L433.49,369.24 L436.07,369.94 L438.65,370.63 L441.23,371.31 L443.81,371.98 L446.39,372.64 L448.97,373.28 L451.55,373.91 L454.12,374.53 L456.70,375.14 L459.28,375.73 L461.86,376.31 L464.44,376.87 L467.02,377.43 L469.60,377.97 L472.18,378.50 L474.76,379.03 L477.33,379.55 L479.91,380.06 L482.49,380.57 L485.07,381.07 L487.65,381.56 L490.23,382.04 L492.81,382.51 L495.39,382.98 L497.97,383.44 L500.54,383.89 L503.12,384.33 L505.70,384.77 L508.28,385.20 L510.86,385.61 L513.44,386.02 L516.02,386.43 L518.60,386.82 L521.17,387.21 L523.75,387.58 L526.33,387.95 L528.91,388.31 L531.49,388.66 L534.07,389.00 L536.65,389.34 L539.23,389.66 L541.81,389.98 L544.38,390.30 L546.96,390.60 L549.54,390.90 L552.12,391.19 L554.70,391.47 L557.28,391.74 L559.86,392.00 L562.44,392.24 L565.01,392.46 L567.59,392.67 L570.17,392.86 L572.75,393.04 L575.33,393.22 L577.91,393.40 L580.49,393.58 L583.07,393.76 L585.65,393.94 L588.22,394.11 L590.80,394.28 L593.38,394.45 L595.96,394.61 L598.54,394.77 L601.12,394.92 L603.70,395.06 L606.28,395.19 L608.86,395.31 L611.43,395.43 L614.01,395.53 L616.59,395.62 L619.17,395.70 L621.75,395.77 L624.33,395.83 L626.91,395.87 L629.49,395.89 L632.06,395.90 L634.64,395.89 L637.22,395.87 L639.80,395.85 L642.38,395.81 L644.96,395.76 L647.54,395.71 L650.12,395.65 L652.70,395.58 L655.27,395.51 L657.85,395.44 L660.43,395.37 L663.01,395.29 L665.59,395.21 L668.17,395.11 L670.75,394.99 L673.33,394.87 L675.90,394.73 L678.48,394.58 L681.06,394.42 L683.64,394.25 L686.22,394.07 L688.80,393.89 L691.38,393.70 L693.96,393.50" stroke="#0000e8"/>
<path d="M75.04,75.00 L77.61,79.95 L80.19,84.77 L82.77,89.46 L85.35,94.02 L87.93,98.42 L90.51,102.68 L93.09,106.74 L95.67,110.61 L98.25,114.35 L100.82,118.05 L103.40,121.77 L105.98,125.59 L108.56,129.51 L111.14,133.48 L113.72,137.47 L116.30,141.47 L118.88,145.44 L121.46,149.36 L124.03,153.27 L126.61,157.20 L129.19,161.11 L131.77,164.95 L134.35,168.68 L136.93,172.27 L139.51,175.75 L142.09,179.22 L144.66,182.66 L147.24,186.08 L149.82,189.47 L152.40,192.83 L154.98,196.17 L157.56,199.47 L160.14,202.74 L162.72,205.98 L165.30,209.17 L167.87,212.34 L170.45,215.46 L173.03,218.54 L175.61,221.58 L178.19,224.58 L180.77,227.53 L183.35,230.43 L185.93,233.28 L188.50,236.08 L191.08,238.84 L193.66,241.53 L196.24,244.17 L198.82,246.76 L201.40,249.29 L203.98,251.79 L206.56,254.26 L209.14,256.68 L211.71,259.07 L214.29,261.43 L216.87,263.76 L219.45,266.05 L222.03,268.31 L224.61,270.54 L227.19,272.73 L229.77,274.90 L232.35,277.04 L234.92,279.15 L237.50,281.23 L240.08,283.29 L242.66,285.32 L245.24,287.33 L247.82,289.31 L250.40,291.26 L252.98,293.20 L255.55,295.11 L258.13,297.00 L260.71,298.87 L263.29,300.72 L265.87,302.56 L268.45,304.38 L271.03,306.19 L273.61,307.98 L276.19,309.76 L278.76,311.51 L281.34,313.25 L283.92,314.97 L286.50,316.67 L289.08,318.34 L291.66,320.00 L294.24,321.63 L296.82,323.24 L299.39,324.83 L301.97,326.39 L304.55,327.92 L307.13,329.43 L309.71,330.91 L312.29,332.36 L314.87,333.78 L317.45,335.18 L320.03,336.54 L322.60,337.87 L325.18,339.18 L327.76,340.47 L330.34,341.74 L332.92,343.00 L335.50,344.24 L338.08,345.46 L340.66,346.66 L343.24,347.84 L345.81,349.01 L348.39,350.16 L350.97,351.30 L353.55,352.41 L356.13,353.51 L358.71,354.59 L361.29,355.65 L363.87,356.70 L366.44,357.72 L369.02,358.73 L371.60,359.72 L374.18,360.69 L376.76,361.65 L379.34,362.59 L381.92,363.51 L384.50,364.41 L387.08,365.30 L389.65,366.18 L392.23,367.06 L394.81,367.93 L397.39,368.79 L399.97,369.64 L402.55,370.49 L405.13,371.33 L407.71,372.16 L410.28,372.98 L412.86,373.79 L415.44,374.59 L418.02,375.38 L420.60,376.16 L423.18,376.93 L425.76,377.69 L428.34,378.43 L430.92,379.17 L433.49,379.89 L436.07,380.60 L438.65,381.30 L441.23,381.98 L443.81,382.65 L446.39,383.30 L448.97,383.94 L451.55,384.57 L454.12,385.18 L456.70,385.77 L459.28,386.35 L461.86,386.91 L464.44,387.45 L467.02,387.98 L469.60,388.50 L472.18,389.01 L474.76,389.51 L477.33,390.01 L479.91,390.50 L482.49,390.98 L485.07,391.46 L487.65,391.93 L490.23,392.39 L492.81,392.85 L495.39,393.29 L497.97,393.73 L500.54,394.16 L503.12,394.58 L505.70,394.99 L508.28,395.39 L510.86,395.77 L513.44,396.15 L516.02,396.52 L518.60,396.87 L521.17,397.22 L523.75,397.55 L526.33,397.86 L528.91,398.17 L531.49,398.46 L534.07,398.74 L536.65,399.00 L539.23,399.25 L541.81,399.50 L544.38,399.76 L546.96,400.01 L549.54,400.27 L552.12,400.51 L554.70,400.74 L557.28,400.95 L559.86,401.13 L562.44,401.28 L565.01,401.39 L567.59,401.47 L570.17,401.49 L572.75,401.49 L575.33,401.49 L577.91,401.49 L580.49,401.49 L583.07,401.49 L585.65,401.49 L588.22,401.49 L590.80,401.49 L593.38,401.49 L595.96,401.49 L598.54,401.49 L601.12,401.49 L603.70,401.49 L606.28,401.49 L608.86,401.49 L611.43,401.49 L614.01,401.49 L616.59,401.49 L619.17,401.49 L621.75,401.49 L624.33,401.49 L626.91,401.49 L629.49,401.49 L632.06,401.49 L634.64,401.47 L637.22,401.40 L639.80,401.29 L642.38,401.15 L644.96,400.98 L647.54,400.78 L650.12,400.55 L652.70,400.31 L655.27,400.06 L657.85,399.79 L660.43,399.52 L663.01,399.25 L665.59,398.96 L668.17,398.63 L670.75,398.25 L673.33,397.84 L675.90,397.39 L678.48,396.91 L681.06,396.40 L683.64,395.87 L686.22,395.30 L688.80,394.72 L691.38,394.12 L693.96,393.50" stroke="#0000e8" stroke-dasharray="7.5 3.6"/>
<path d="M75.04,75.00 L77.61,80.09 L80.19,85.05 L82.77,89.87 L85.35,94.54 L87.93,99.06 L90.51,103.43 L93.09,107.58 L95.67,111.54 L98.25,115.36 L100.82,119.14 L103.40,122.95 L105.98,126.87 L108.56,130.89 L111.14,134.96 L113.72,139.06 L116.30,143.18 L118.88,147.29 L121.46,151.38 L124.03,155.51 L126.61,159.69 L129.19,163.87 L131.77,167.99 L134.35,171.98 L136.93,175.78 L139.51,179.46 L142.09,183.10 L144.66,186.71 L147.24,190.29 L149.82,193.84 L152.40,197.35 L154.98,200.83 L157.56,204.27 L160.14,207.67 L162.72,211.04 L165.30,214.36 L167.87,217.64 L170.45,220.89 L173.03,224.08 L175.61,227.24 L178.19,230.35 L180.77,233.41 L183.35,236.43 L185.93,239.39 L188.50,242.31 L191.08,245.18 L193.66,248.00 L196.24,250.76 L198.82,253.47 L201.40,256.14 L203.98,258.77 L206.56,261.36 L209.14,263.93 L211.71,266.45 L214.29,268.95 L216.87,271.41 L219.45,273.84 L222.03,276.23 L224.61,278.60 L227.19,280.93 L229.77,283.23 L232.35,285.50 L234.92,287.73 L237.50,289.94 L240.08,292.12 L242.66,294.26 L245.24,296.38 L247.82,298.46 L250.40,300.52 L252.98,302.55 L255.55,304.55 L258.13,306.52 L260.71,308.46 L263.29,310.38 L265.87,312.28 L268.45,314.16 L271.03,316.02 L273.61,317.86 L276.19,319.69 L278.76,321.49 L281.34,323.26 L283.92,325.02 L286.50,326.76 L289.08,328.47 L291.66,330.15 L294.24,331.82 L296.82,333.46 L299.39,335.07 L301.97,336.66 L304.55,338.23 L307.13,339.77 L309.71,341.28 L312.29,342.76 L314.87,344.22 L317.45,345.65 L320.03,347.05 L322.60,348.42 L325.18,349.77 L327.76,351.11 L330.34,352.43 L332.92,353.73 L335.50,355.02 L338.08,356.29 L340.66,357.54 L343.24,358.78 L345.81,360.00 L348.39,361.20 L350.97,362.38 L353.55,363.55 L356.13,364.69 L358.71,365.82 L361.29,366.92 L363.87,368.01 L366.44,369.07 L369.02,370.12 L371.60,371.14 L374.18,372.14 L376.76,373.12 L379.34,374.07 L381.92,375.01 L384.50,375.92 L387.08,376.81 L389.65,377.70 L392.23,378.59 L394.81,379.47 L397.39,380.34 L399.97,381.20 L402.55,382.06 L405.13,382.91 L407.71,383.75 L410.28,384.58 L412.86,385.40 L415.44,386.21 L418.02,387.00 L420.60,387.79 L423.18,388.56 L425.76,389.32 L428.34,390.06 L430.92,390.79 L433.49,391.51 L436.07,392.21 L438.65,392.89 L441.23,393.56 L443.81,394.21 L446.39,394.84 L448.97,395.45 L451.55,396.05 L454.12,396.62 L456.70,397.18 L459.28,397.71 L461.86,398.22 L464.44,398.71 L467.02,399.18 L469.60,399.63 L472.18,400.08 L474.76,400.52 L477.33,400.96 L479.91,401.39 L482.49,401.81 L485.07,402.23 L487.65,402.64 L490.23,403.04 L492.81,403.43 L495.39,403.82 L497.97,404.19 L500.54,404.56 L503.12,404.91 L505.70,405.26 L508.28,405.59 L510.86,405.91 L513.44,406.22 L516.02,406.51 L518.60,406.80 L521.17,407.07 L523.75,407.32 L526.33,407.56 L528.91,407.79 L531.49,408.00 L534.07,408.19 L536.65,408.37 L539.23,408.53 L541.81,408.68 L544.38,408.83 L546.96,408.98 L549.54,409.13 L552.12,409.26 L554.70,409.39 L557.28,409.51 L559.86,409.61 L562.44,409.69 L565.01,409.75 L567.59,409.79 L570.17,409.80 L572.75,409.80 L575.33,409.77 L577.91,409.72 L580.49,409.66 L583.07,409.58 L585.65,409.49 L588.22,409.38 L590.80,409.27 L593.38,409.13 L595.96,408.99 L598.54,408.84 L601.12,408.68 L603.70,408.50 L606.28,408.32 L608.86,408.14 L611.43,407.94 L614.01,407.75 L616.59,407.54 L619.17,407.34 L621.75,407.13 L624.33,406.92 L626.91,406.71 L629.49,406.50 L632.06,406.29 L634.64,406.07 L637.22,405.84 L639.80,405.59 L642.38,405.32 L644.96,405.03 L647.54,404.73 L650.12,404.40 L652.70,404.06 L655.27,403.69 L657.85,403.30 L660.43,402.89 L663.01,402.45 L665.59,401.97 L668.17,401.43 L670.75,400.84 L673.33,400.19 L675.90,399.49 L678.48,398.74 L681.06,397.96 L683.64,397.13 L686.22,396.27 L688.80,395.37 L691.38,394.45 L693.96,393.50" stroke="#0000e8" stroke-dasharray="7.5 3.6"/>
<path d="M75.04,75.00 L77.61,80.23 L80.19,85.32 L82.77,90.27 L85.35,95.06 L87.93,99.70 L90.51,104.17 L93.09,108.42 L95.67,112.47 L98.25,116.38 L100.82,120.24 L103.40,124.13 L105.98,128.15 L108.56,132.28 L111.14,136.45 L113.72,140.66 L116.30,144.89 L118.88,149.14 L121.46,153.41 L124.03,157.75 L126.61,162.19 L129.19,166.64 L131.77,171.04 L134.35,175.28 L136.93,179.30 L139.51,183.15 L142.09,186.97 L144.66,190.74 L147.24,194.47 L149.82,198.16 L152.40,201.81 L154.98,205.42 L157.56,208.99 L160.14,212.51 L162.72,215.99 L165.30,219.42 L167.87,222.81 L170.45,226.16 L173.03,229.46 L175.61,232.71 L178.19,235.92 L180.77,239.08 L183.35,242.19 L185.93,245.26 L188.50,248.28 L191.08,251.25 L193.66,254.17 L196.24,257.04 L198.82,259.87 L201.40,262.65 L203.98,265.40 L206.56,268.11 L209.14,270.80 L211.71,273.45 L214.29,276.07 L216.87,278.65 L219.45,281.20 L222.03,283.72 L224.61,286.21 L227.19,288.66 L229.77,291.08 L232.35,293.46 L234.92,295.81 L237.50,298.13 L240.08,300.41 L242.66,302.66 L245.24,304.87 L247.82,307.05 L250.40,309.19 L252.98,311.30 L255.55,313.37 L258.13,315.41 L260.71,317.41 L263.29,319.38 L265.87,321.33 L268.45,323.26 L271.03,325.16 L273.61,327.04 L276.19,328.89 L278.76,330.72 L281.34,332.53 L283.92,334.31 L286.50,336.07 L289.08,337.80 L291.66,339.51 L294.24,341.19 L296.82,342.85 L299.39,344.48 L301.97,346.09 L304.55,347.67 L307.13,349.23 L309.71,350.76 L312.29,352.26 L314.87,353.74 L317.45,355.19 L320.03,356.62 L322.60,358.01 L325.18,359.39 L327.76,360.75 L330.34,362.10 L332.92,363.44 L335.50,364.75 L338.08,366.05 L340.66,367.34 L343.24,368.61 L345.81,369.86 L348.39,371.09 L350.97,372.30 L353.55,373.49 L356.13,374.67 L358.71,375.82 L361.29,376.95 L363.87,378.06 L366.44,379.16 L369.02,380.22 L371.60,381.27 L374.18,382.29 L376.76,383.29 L379.34,384.27 L381.92,385.22 L384.50,386.15 L387.08,387.06 L389.65,387.97 L392.23,388.88 L394.81,389.78 L397.39,390.68 L399.97,391.57 L402.55,392.45 L405.13,393.33 L407.71,394.19 L410.28,395.05 L412.86,395.90 L415.44,396.73 L418.02,397.56 L420.60,398.37 L423.18,399.16 L425.76,399.95 L428.34,400.71 L430.92,401.46 L433.49,402.19 L436.07,402.91 L438.65,403.60 L441.23,404.28 L443.81,404.93 L446.39,405.56 L448.97,406.17 L451.55,406.76 L454.12,407.32 L456.70,407.86 L459.28,408.37 L461.86,408.85 L464.44,409.31 L467.02,409.74 L469.60,410.15 L472.18,410.56 L474.76,410.96 L477.33,411.37 L479.91,411.76 L482.49,412.16 L485.07,412.55 L487.65,412.93 L490.23,413.31 L492.81,413.68 L495.39,414.03 L497.97,414.38 L500.54,414.72 L503.12,415.04 L505.70,415.36 L508.28,415.65 L510.86,415.94 L513.44,416.20 L516.02,416.46 L518.60,416.69 L521.17,416.90 L523.75,417.10 L526.33,417.27 L528.91,417.42 L531.49,417.55 L534.07,417.66 L536.65,417.74 L539.23,417.80 L541.81,417.84 L544.38,417.88 L546.96,417.92 L549.54,417.96 L552.12,417.99 L554.70,418.02 L557.28,418.05 L559.86,418.07 L562.44,418.09 L565.01,418.11 L567.59,418.11 L570.17,418.12 L572.75,418.10 L575.33,418.05 L577.91,417.97 L580.49,417.87 L583.07,417.73 L585.65,417.57 L588.22,417.38 L590.80,417.18 L593.38,416.95 L595.96,416.70 L598.54,416.43 L601.12,416.15 L603.70,415.85 L606.28,415.54 L608.86,415.22 L611.43,414.89 L614.01,414.55 L616.59,414.20 L619.17,413.84 L621.75,413.49 L624.33,413.12 L626.91,412.76 L629.49,412.40 L632.06,412.04 L634.64,411.67 L637.22,411.27 L639.80,410.83 L642.38,410.37 L644.96,409.88 L647.54,409.36 L650.12,408.81 L652.70,408.23 L655.27,407.62 L657.85,406.99 L660.43,406.33 L663.01,405.65 L665.59,404.92 L668.17,404.13 L670.75,403.28 L673.33,402.37 L675.90,401.41 L678.48,400.41 L681.06,399.35 L683.64,398.26 L686.22,397.12 L688.80,395.95 L691.38,394.74 L693.96,393.50" stroke="#0000e8" stroke-dasharray="7.2 3.2 1.2 3.2"/>
</g></g>
<defs><clipPath id="c0"><path d="M-22.714,-45.429H90.857V-3.180H-22.714Z M-22.714,-3.407H0.000V9.086H-22.714Z M5.451,-3.407H7.950V9.086H5.451Z M13.629,-3.407H90.857V9.086H13.629Z"/></clipPath><clipPath id="c1"><path d="M-23.401,-46.802H46.802V-3.276H-23.401Z M-23.401,-3.510H0.000V9.360H-23.401Z M5.616,-3.510H8.190V9.360H5.616Z M14.041,-3.510H46.802V9.360H14.041Z"/></clipPath><clipPath id="c2"><path d="M-22.674,-45.349H45.349V-3.174H-22.674Z M-22.674,-3.401H0.000V9.070H-22.674Z M5.442,-3.401H7.936V9.070H5.442Z M13.605,-3.401H45.349V9.070H13.605Z"/></clipPath><clipPath id="c3"><path d="M-15.789,-31.579H378.947V-2.211H-15.789Z M-15.789,-2.368H66.280V6.316H-15.789Z M70.070,-2.368H71.807V6.316H70.070Z M75.754,-2.368H97.003V6.316H75.754Z M100.793,-2.368H102.530V6.316H100.793Z M106.477,-2.368H378.947V6.316H106.477Z"/></clipPath></defs>
<g fill="#000">
<g transform="matrix(1.5218 0 0 1 51.48 18.10)"><text font-family='"Liberation Sans", Arial, sans-serif' font-size="22.714" text-rendering="geometricPrecision" clip-path="url(#c0)">1.2</text></g>
<g transform="matrix(1.5827 0 0 1 79.24 81.70)"><text font-family='"Liberation Sans", Arial, sans-serif' font-size="23.401" text-rendering="geometricPrecision" clip-path="url(#c1)">1</text></g>
<g transform="matrix(1.4947 0 0 1 51.94 145.27)"><text font-family='"Liberation Sans", Arial, sans-serif' font-size="22.676" text-rendering="geometricPrecision">0.8</text></g>
<g transform="matrix(1.5004 0 0 1 51.94 209.07)"><text font-family='"Liberation Sans", Arial, sans-serif' font-size="22.676" text-rendering="geometricPrecision">0.6</text></g>
<g transform="matrix(1.4900 0 0 1 52.05 273.27)"><text font-family='"Liberation Sans", Arial, sans-serif' font-size="22.676" text-rendering="geometricPrecision">0.4</text></g>
<g transform="matrix(1.5224 0 0 1 52.03 337.27)"><text font-family='"Liberation Sans", Arial, sans-serif' font-size="22.535" text-rendering="geometricPrecision">0.2</text></g>
<g transform="matrix(1.5995 0 0 1 79.59 400.78)"><text font-family='"Liberation Sans", Arial, sans-serif' font-size="22.113" text-rendering="geometricPrecision">0</text></g>
<g transform="matrix(1.5210 0 0 1 40.36 465.07)"><text font-family='"Liberation Sans", Arial, sans-serif' font-size="22.535" text-rendering="geometricPrecision">-0.2</text></g>
<g transform="matrix(1.5511 0 0 1 93.81 480.38)"><text font-family='"Liberation Sans", Arial, sans-serif' font-size="22.394" text-rendering="geometricPrecision">0</text></g>
<g transform="matrix(1.5028 0 0 1 252.54 480.57)"><text font-family='"Liberation Sans", Arial, sans-serif' font-size="22.676" text-rendering="geometricPrecision">0.2</text></g>
<g transform="matrix(1.4833 0 0 1 424.85 480.57)"><text font-family='"Liberation Sans", Arial, sans-serif' font-size="22.676" text-rendering="geometricPrecision">0.4</text></g>
<g transform="matrix(1.5004 0 0 1 596.94 480.57)"><text font-family='"Liberation Sans", Arial, sans-serif' font-size="22.676" text-rendering="geometricPrecision">0.6</text></g>
<g transform="matrix(1.4947 0 0 1 768.44 480.47)"><text font-family='"Liberation Sans", Arial, sans-serif' font-size="22.676" text-rendering="geometricPrecision">0.8</text></g>
<g transform="matrix(1.5427 0 0 1 954.54 480.60)"><text font-family='"Liberation Sans", Arial, sans-serif' font-size="22.674" text-rendering="geometricPrecision" clip-path="url(#c2)">1</text></g>
<g transform="matrix(1.7884 0 0 1 522.12 502.22)"><text font-family='"Liberation Serif", "Times New Roman", serif' font-size="21.752" text-rendering="geometricPrecision">η</text></g>
<text transform="matrix(0 -27.2464 35.3143 0 29.12 253.83)" font-family='"Liberation Serif", "Times New Roman", serif' font-size="1" text-rendering="geometricPrecision">ζ</text>
<text transform="matrix(0 -20.0000 34.2246 0 26.91 242.40)" font-family='"Liberation Sans", Arial, sans-serif' font-size="1" text-rendering="geometricPrecision">(</text>
<text transform="matrix(0 -25.9341 32.7007 0 27.97 235.99)" font-family='"Liberation Serif", "Times New Roman", serif' font-size="1" text-rendering="geometricPrecision">η</text>
<text transform="matrix(0 -20.3846 34.2246 0 26.91 222.30)" font-family='"Liberation Sans", Arial, sans-serif' font-size="1" text-rendering="geometricPrecision">)</text>
<g transform="matrix(1.6191 0 0 1 334.17 140.10)"><text font-family='"Liberation Serif", "Times New Roman", serif' font-size="15.152" text-rendering="geometricPrecision">Ω</text></g>
<g transform="matrix(1.4556 0 0 1 357.74 139.83)"><text font-family='"Liberation Sans", Arial, sans-serif' font-size="15.904" text-rendering="geometricPrecision">= 0.2, 0.3, 0.4, 0.5</text></g>
<g transform="matrix(1.4224 0 0 1 531.05 198.69)"><text font-family='"Liberation Sans", Arial, sans-serif' font-size="16.265" text-rendering="geometricPrecision">Pe = 0.5, 0.6, 0.7, 0.8</text></g>
<g transform="matrix(1.4602 0 0 1 696.76 248.75)"><text font-family='"Liberation Sans", Arial, sans-serif' font-size="15.789" text-rendering="geometricPrecision" clip-path="url(#c3)">Lb = 0.5, 1.0, 1.5, 2.0</text></g>
</g>
<line x1="434.3" y1="175.3" x2="357.5" y2="263.5" stroke="#000" stroke-width="2.7"/>
<path d="M349.95,271.4L353.4,259.4L357.5,263.5L365.0,263.2Z" fill="#000" stroke="#000" stroke-width="2" stroke-linejoin="round"/>
<line x1="661.7" y1="233.7" x2="607.8" y2="287.2" stroke="#000" stroke-width="2.7"/>
<path d="M599.6,294.7L603.4,283.0L607.8,287.2L615.0,288.2Z" fill="#000" stroke="#000" stroke-width="2" stroke-linejoin="round"/>
<line x1="776.8" y1="266.7" x2="712.2" y2="347.0" stroke="#000" stroke-width="2.7"/>
<path d="M706.0,353.5L708.0,342.5L712.2,347.0L719.7,347.3Z" fill="#000" stroke="#000" stroke-width="2" stroke-linejoin="round"/>
<path d="M428.2,180.8L433.2,180.3M760.9,283.3L765.7,283.5" stroke="#fff" stroke-width="0.9"/>
<g transform="scale(1.39 1)" fill="none" stroke="#000" stroke-width="2.3">
<ellipse cx="244.21" cy="292.85" rx="18.99" ry="22.85"/>
<ellipse cx="428.27" cy="313.6" rx="20.86" ry="18.25"/>
<ellipse cx="500.79" cy="366.3" rx="15.18" ry="13.85"/>
</g>
</svg></body></html>
